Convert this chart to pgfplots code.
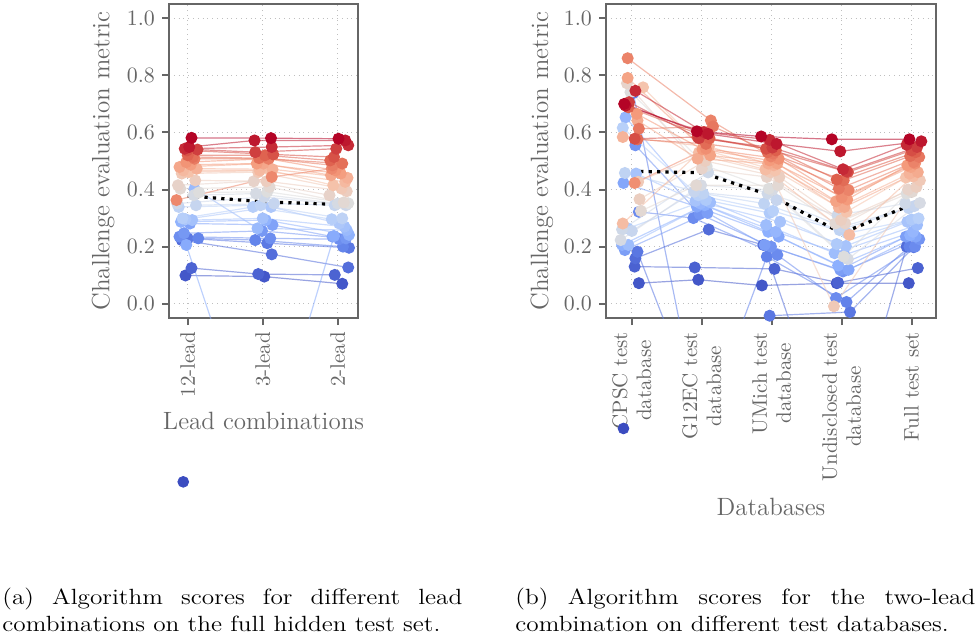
\documentclass[border=0pt]{standalone}
\usepackage{graphicx}
\usepackage{pgfplots}
\pgfplotsset{compat=1.18}
\pgfplotsset{
  colormap={coolwarm}{rgb255=(59,76,192) rgb255=(98,130,234) rgb255=(141,176,254) rgb255=(184,208,249) rgb255=(221,221,221) rgb255=(245,196,173) rgb255=(244,154,123) rgb255=(222,96,77) rgb255=(180,4,38)},
  tm/.style={color of colormap={#1}, line width=0.6pt, draw opacity=0.55, mark=*, mark size=2.7pt, mark options={solid, draw opacity=1, fill opacity=1, draw=none}},
  med/.style={black, line width=1.6pt, dash pattern=on 1.6pt off 2.6pt},
  base/.style={scale only axis, height=157pt, anchor=south west,
    ymin=-0.05, ymax=1.05, ytick={0,0.2,0.4,0.6,0.8,1.0},
    tick pos=left, tick align=outside, major tick length=3.5pt,
    axis line style={black!60, line width=1pt},
    tick style={black!60, line width=1pt},
    grid=major, major grid style={dotted, black!25, line width=0.6pt},
    tick label style={font=\fontsize{10.5}{12}\selectfont, color=black!60},
    yticklabel style={/pgf/number format/fixed, /pgf/number format/fixed zerofill, /pgf/number format/precision=1},
    ylabel={Challenge evaluation metric}},
}
\newcommand{\capfont}{\fontsize{11}{13.5}\selectfont}
\begin{document}
\begin{tikzpicture}
\useasboundingbox (0,0) rectangle (487.5pt,319.5pt);
% ---------------- left panel ----------------
\begin{axis}[base, at={(84.5pt,160.5pt)}, width=94.5pt,
  xmin=-0.25, xmax=2.27, xtick={0,1,2}, xticklabels={12-lead,3-lead,2-lead},
  xticklabel style={rotate=90, anchor=east},
  xlabel={Lead combinations},
  every axis x label/.style={at={(axis description cs:0.5,-0.328)}, anchor=center, font=\fontsize{12.5}{15}\selectfont, color=black!60},
  every axis y label/.style={at={(axis description cs:-0.349,0.5)}, rotate=90, anchor=center, font=\fontsize{12.5}{15}\selectfont, color=black!60}]
\addplot[tm=0] coordinates {(0.00,-0.055)(1.0,-0.30)(2.0,-0.06)};
\addplot[tm=26] coordinates {(-0.03,0.099)(1.02,0.095)(2.06,0.070)};
\addplot[tm=53] coordinates {(0.05,0.125)(0.94,0.104)(1.96,0.101)};
\addplot[tm=79] coordinates {(-0.08,0.223)(1.12,0.173)(2.14,0.127)};
\addplot[tm=105] coordinates {(0.00,0.229)(1.06,0.212)(2.15,0.196)};
\addplot[tm=132] coordinates {(0.14,0.229)(0.90,0.223)(2.07,0.200)};
\addplot[tm=158] coordinates {(-0.11,0.235)(1.10,0.229)(2.02,0.226)};
\addplot[tm=184] coordinates {(-0.05,0.247)(0.99,0.255)(2.11,0.229)};
\addplot[tm=211] coordinates {(0.03,0.281)(1.13,0.276)(1.93,0.235)};
\addplot[tm=237] coordinates {(-0.02,0.206)(1.00,-0.60)(1.95,0.237)};
\addplot[tm=263] coordinates {(-0.09,0.287)(1.04,0.293)(2.15,0.241)};
\addplot[tm=289] coordinates {(0.09,0.403)(0.93,0.264)(2.12,0.258)};
\addplot[tm=316] coordinates {(0.06,0.293)(1.00,0.299)(2.09,0.270)};
\addplot[tm=342] coordinates {(-0.03,0.296)(1.11,0.339)(2.02,0.281)};
\addplot[tm=368] coordinates {(-0.07,0.299)(0.87,0.339)(1.92,0.296)};
\addplot[tm=395] coordinates {(-0.12,0.339)(0.97,0.345)(2.06,0.299)};
\addplot[tm=421] coordinates {(0.11,0.345)(1.15,0.351)(1.96,0.345)};
\addplot[tm=447] coordinates {(-0.14,0.351)(1.02,0.374)(2.11,0.345)};
\addplot[tm=474] coordinates {(0.08,0.380)(0.91,0.386)(2.00,0.351)};
\addplot[tm=500] coordinates {(0.15,0.390)(1.06,0.392)(2.14,0.352)};
\addplot[tm=526] coordinates {(-0.10,0.403)(1.09,0.409)(2.08,0.355)};
\addplot[tm=553] coordinates {(-0.13,0.415)(0.88,0.429)(1.89,0.380)};
\addplot[tm=579] coordinates {(0.10,0.432)(1.05,0.429)(2.12,0.394)};
\addplot[tm=605] coordinates {(-0.08,0.456)(0.94,0.461)(2.05,0.403)};
\addplot[tm=632] coordinates {(0.01,0.461)(1.10,0.467)(1.94,0.415)};
\addplot[tm=658] coordinates {(-0.06,0.467)(0.96,0.467)(2.10,0.427)};
\addplot[tm=684] coordinates {(0.12,0.473)(1.13,0.471)(2.13,0.441)};
\addplot[tm=711] coordinates {(-0.11,0.479)(1.01,0.491)(1.91,0.450)};
\addplot[tm=737] coordinates {(0.04,0.487)(0.92,0.491)(2.04,0.456)};
\addplot[tm=763] coordinates {(-0.02,0.496)(1.07,0.508)(1.97,0.467)};
\addplot[tm=789] coordinates {(-0.15,0.363)(1.12,0.444)(1.92,0.473)};
\addplot[tm=816] coordinates {(0.09,0.508)(1.08,0.508)(1.93,0.485)};
\addplot[tm=842] coordinates {(0.07,0.514)(0.95,0.510)(2.06,0.491)};
\addplot[tm=868] coordinates {(0.00,0.520)(1.03,0.520)(1.90,0.502)};
\addplot[tm=895] coordinates {(-0.01,0.537)(1.14,0.523)(1.95,0.514)};
\addplot[tm=921] coordinates {(0.13,0.540)(0.90,0.531)(1.98,0.543)};
\addplot[tm=947] coordinates {(-0.04,0.543)(1.12,0.549)(2.14,0.555)};
\addplot[tm=974] coordinates {(0.02,0.549)(0.89,0.572)(2.10,0.572)};
\addplot[tm=1000] coordinates {(0.05,0.581)(1.11,0.580)(2.01,0.578)};
\addplot[med] coordinates {(0,0.378)(1,0.357)(2,0.348)};
\end{axis}
\begin{axis}[scale only axis, anchor=south west, at={(84.5pt,160.5pt)}, width=94.5pt, height=157pt,
  xmin=-0.25, xmax=2.27, ymin=-0.05, ymax=1.05, hide axis, clip=false]
\addplot[only marks, mark=*, mark size=2.7pt, color of colormap={0}, mark options={draw=none}] coordinates {(-0.06,-0.624)};
\end{axis}
% ---------------- right panel ----------------
\begin{axis}[base, at={(303pt,160.5pt)}, width=165pt,
  xmin=-0.37, xmax=4.35, xtick={0,1,2,3,4},
  xticklabels={{CPSC test\\database},{G12EC test\\database},{UMich test\\database},{Undisclosed test\\database},{Full test set}},
  xticklabel style={rotate=90, anchor=east, align=center},
  xlabel={Databases},
  every axis x label/.style={at={(axis description cs:0.5,-0.6006)}, anchor=center, font=\fontsize{12.5}{15}\selectfont, color=black!60},
  every axis y label/.style={at={(axis description cs:-0.194,0.5)}, rotate=90, anchor=center, font=\fontsize{12.5}{15}\selectfont, color=black!60}]
\addplot[tm=25] coordinates {(0.10,0.072)(0.95,0.084)(1.86,0.064)(2.93,0.072)(3.96,0.072)};
\addplot[tm=50] coordinates {(0.04,0.130)(0.90,0.127)(2.04,0.122)(2.95,0.074)(4.09,0.125)};
\addplot[tm=75] coordinates {(0.05,0.159)(1.10,0.260)(1.88,0.206)(3.00,-0.590)(3.93,0.200)};
\addplot[tm=100] coordinates {(0.08,0.182)(1.00,-0.400)(1.97,-0.042)(3.12,-0.029)(4.03,0.198)};
\addplot[tm=125] coordinates {(0.02,0.738)(1.00,-0.450)(1.93,0.165)(3.07,0.006)(3.97,0.200)};
\addplot[tm=150] coordinates {(0.10,0.322)(0.88,0.300)(2.08,0.171)(2.92,0.020)(4.05,0.200)};
\addplot[tm=175] coordinates {(0.05,0.555)(0.97,0.314)(1.99,0.200)(3.02,0.113)(4.11,0.226)};
\addplot[tm=200] coordinates {(-0.10,0.188)(1.08,0.318)(1.90,0.206)(2.98,0.119)(3.92,0.235)};
\addplot[tm=225] coordinates {(-0.12,0.423)(0.93,0.340)(2.10,0.235)(3.10,0.119)(4.06,0.235)};
\addplot[tm=250] coordinates {(-0.14,0.206)(1.04,0.345)(1.95,0.252)(2.95,0.134)(3.98,0.240)};
\addplot[tm=275] coordinates {(-0.09,0.653)(0.98,0.351)(2.06,0.252)(3.04,0.171)(4.02,0.252)};
\addplot[tm=300] coordinates {(-0.05,0.206)(1.12,0.355)(1.92,0.276)(2.90,0.177)(4.08,0.276)};
\addplot[tm=325] coordinates {(0.06,0.456)(0.91,0.360)(2.12,0.287)(3.06,0.202)(3.94,0.287)};
\addplot[tm=350] coordinates {(-0.06,0.264)(1.06,0.363)(1.97,0.318)(2.93,0.209)(4.00,0.295)};
\addplot[tm=375] coordinates {(-0.13,0.616)(0.95,0.380)(2.02,0.325)(3.08,0.247)(4.10,0.299)};
\addplot[tm=400] coordinates {(-0.10,0.458)(1.02,0.386)(1.89,0.351)(2.97,0.258)(3.96,0.335)};
\addplot[tm=425] coordinates {(0.00,0.255)(0.89,0.392)(2.07,0.363)(3.01,0.270)(4.04,0.342)};
\addplot[tm=450] coordinates {(-0.14,0.260)(1.09,0.460)(1.94,0.386)(2.94,0.310)(3.91,0.351)};
\addplot[tm=475] coordinates {(-0.16,0.223)(0.99,0.415)(2.01,0.398)(3.09,0.156)(4.12,0.353)};
\addplot[tm=500] coordinates {(-0.02,0.741)(1.07,0.482)(1.96,0.403)(3.03,0.165)(3.93,0.386)};
\addplot[tm=525] coordinates {(0.13,0.325)(0.92,0.415)(2.09,0.415)(2.91,0.281)(4.01,0.392)};
\addplot[tm=550] coordinates {(-0.07,0.772)(1.00,0.473)(1.93,0.444)(3.05,0.281)(3.95,0.400)};
\addplot[tm=575] coordinates {(0.11,0.366)(1.05,0.500)(2.11,0.444)(2.99,0.293)(4.07,0.409)};
\addplot[tm=600] coordinates {(0.09,0.427)(0.97,0.520)(1.98,0.461)(2.89,-0.009)(4.12,0.432)};
\addplot[tm=625] coordinates {(0.16,0.758)(1.03,0.540)(2.05,0.467)(3.07,0.322)(3.92,0.442)};
\addplot[tm=650] coordinates {(-0.13,0.281)(0.96,0.530)(1.91,0.470)(3.11,0.241)(4.02,0.446)};
\addplot[tm=675] coordinates {(-0.13,0.584)(1.10,0.550)(2.03,0.485)(2.96,0.337)(3.97,0.456)};
\addplot[tm=700] coordinates {(0.08,0.642)(0.94,0.508)(1.95,0.491)(3.04,0.339)(4.09,0.461)};
\addplot[tm=725] coordinates {(-0.06,0.791)(1.12,0.520)(2.08,0.491)(2.92,0.359)(3.99,0.479)};
\addplot[tm=750] coordinates {(0.07,0.665)(1.01,0.541)(1.97,0.502)(3.08,0.365)(3.94,0.485)};
\addplot[tm=775] coordinates {(0.04,0.423)(1.06,0.543)(2.10,0.508)(3.00,0.372)(4.05,0.491)};
\addplot[tm=800] coordinates {(-0.06,0.860)(1.13,0.642)(1.99,0.516)(3.10,0.398)(4.03,0.496)};
\addplot[tm=825] coordinates {(0.10,0.613)(1.16,0.621)(2.02,0.526)(2.96,0.403)(4.11,0.514)};
\addplot[tm=850] coordinates {(0.08,0.576)(1.06,0.560)(1.94,0.531)(3.03,0.432)(3.98,0.517)};
\addplot[tm=875] coordinates {(-0.05,0.688)(1.11,0.580)(2.06,0.537)(2.93,0.435)(4.06,0.531)};
\addplot[tm=900] coordinates {(0.04,0.578)(0.94,0.584)(1.92,0.543)(3.09,0.461)(4.00,0.537)};
\addplot[tm=925] coordinates {(-0.04,0.706)(0.96,0.580)(2.01,0.547)(3.07,0.464)(4.08,0.549)};
\addplot[tm=950] coordinates {(0.05,0.746)(1.03,0.601)(1.97,0.574)(3.02,0.471)(3.93,0.557)};
\addplot[tm=975] coordinates {(-0.09,0.694)(1.09,0.595)(2.07,0.560)(2.98,0.534)(4.14,0.569)};
\addplot[tm=1000] coordinates {(-0.11,0.700)(0.93,0.604)(1.85,0.586)(2.86,0.576)(3.97,0.576)};
\addplot[med] coordinates {(0,0.464)(1,0.459)(2,0.378)(3,0.247)(4,0.347)};
\end{axis}
\begin{axis}[scale only axis, anchor=south west, at={(303pt,160.5pt)}, width=165pt, height=157pt,
  xmin=-0.37, xmax=4.35, ymin=-0.05, ymax=1.05, hide axis, clip=false]
\addplot[only marks, mark=*, mark size=2.7pt, color of colormap={0}, mark options={draw=none}] coordinates {(-0.12,-0.437)};
\end{axis}
% ---------------- captions ----------------
\node[anchor=base west, inner sep=0pt] at (1pt,17.5pt)
  {\capfont\scalebox{1.15}[1]{\makebox[200pt][s]{(a) Algorithm scores for different lead}}};
\node[anchor=base west, inner sep=0pt] at (1pt,4pt)
  {\capfont\scalebox{1.15}[1]{combinations on the full hidden test set.}};
\node[anchor=base west, inner sep=0pt] at (257.5pt,17.5pt)
  {\capfont\scalebox{1.15}[1]{\makebox[200pt][s]{(b) Algorithm scores for the two-lead}}};
\node[anchor=base west, inner sep=0pt] at (257.5pt,4pt)
  {\capfont\scalebox{1.15}[1]{combination on different test databases.}};
\end{tikzpicture}
\end{document}
